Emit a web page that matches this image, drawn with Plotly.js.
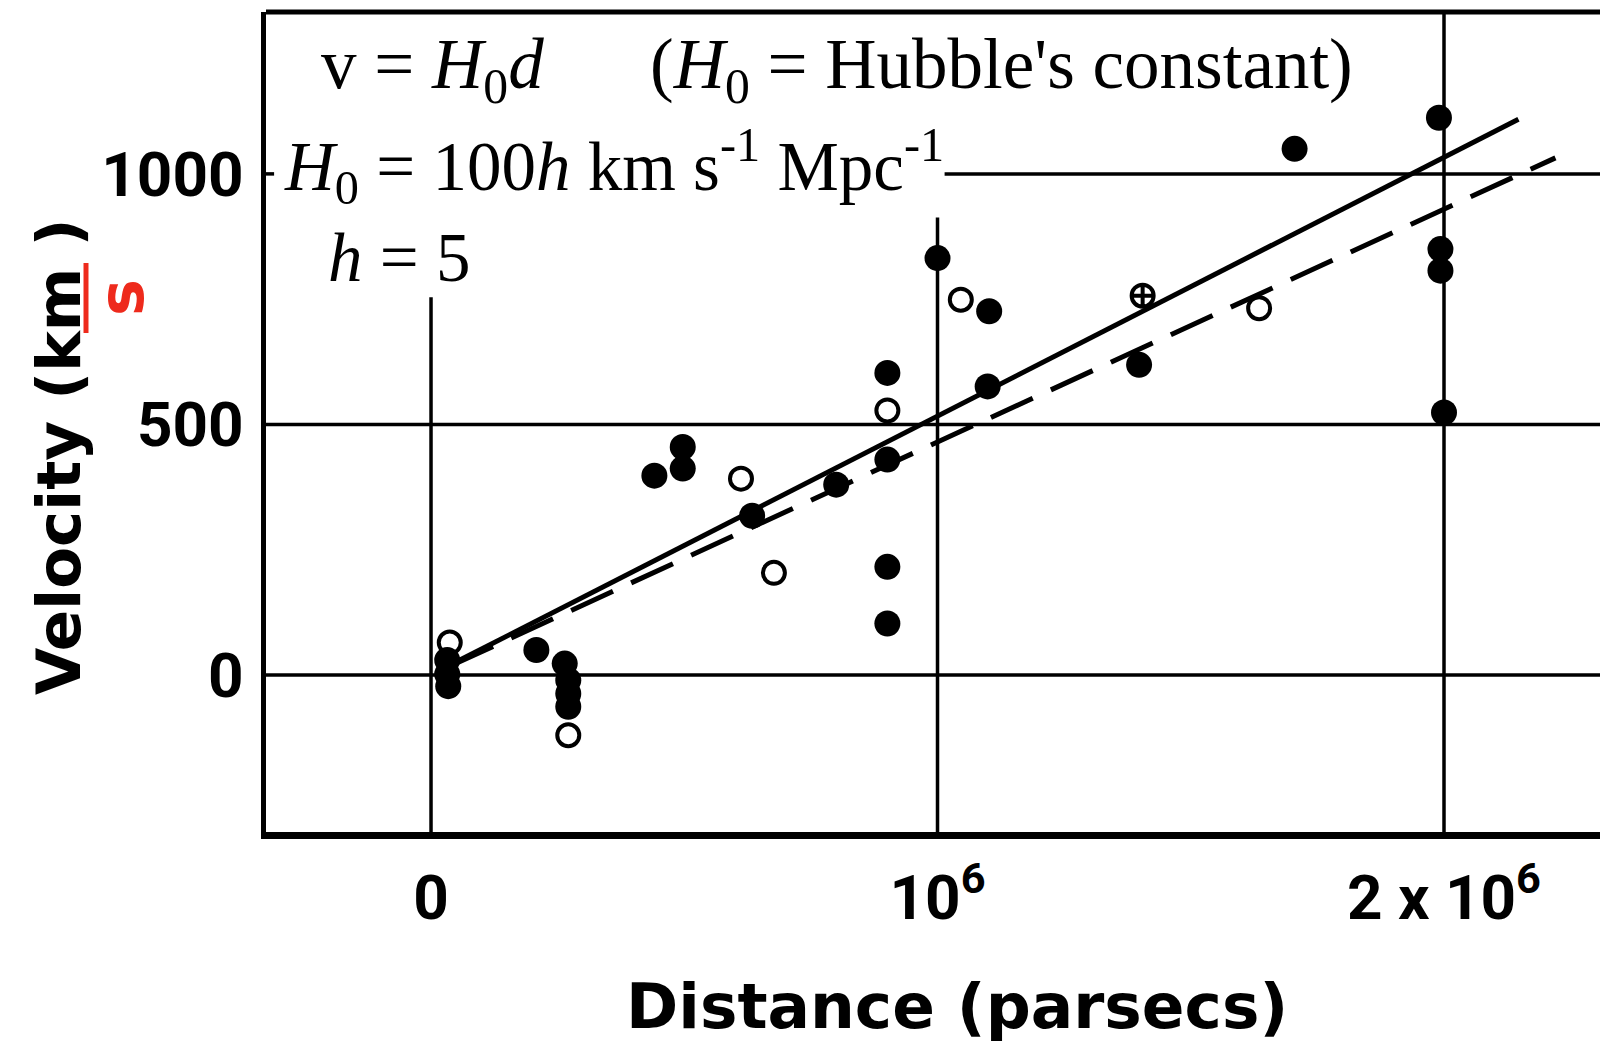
<!DOCTYPE html>
<html>
<head>
<meta charset="utf-8">
<script src="https://cdn.plot.ly/plotly-3.0.1.min.js"></script>
<style>
  html, body { margin: 0; padding: 0; background: #ffffff; }
  #chart { width: 1600px; height: 1044px; }
</style>
</head>
<body>
<div id="chart"></div>
<script>
// ---- data (distance in parsecs, velocity in km/s) ----
const filledDistance = [32000, 32000, 34000, 208000, 264000, 271000, 271000, 271000, 441000, 497000, 497000, 634000, 800000, 901000, 901000, 901000, 901000, 1000000, 1099000, 1102000, 1398000, 1705000, 1990000, 1993000, 1993000, 2000000];
const filledVelocity = [30, 2, -22, 50, 23, -10, -37, -63, 398, 455, 412, 318, 380, 603, 430, 216, 103, 832, 576, 726, 619, 1050, 1112, 850, 807, 524];

const openDistance = [37000, 271000, 612000, 677000, 901000, 1046000, 1635000];
const openVelocity = [65, -120, 392, 204, 528, 749, 732];

const crossDistance = [1405000];
const crossVelocity = [757];

const solidFitDistance = [57000, 2147000];
const solidFitVelocity = [30, 1109];
const dashedFitDistance = [40000, 2220000];
const dashedFitVelocity = [19, 1032];

const xTickValues = [0, 1000000, 2000000];
const xTickLabels = ['0', '10<sup>6</sup>', '2 x 10<sup>6</sup>'];
const yTickValues = [0, 500, 1000];
const yTickLabels = ['0', '500', '1000'];

// ---- layout geometry ----
const W = 1600, H = 1044;
const M = {l: 266, r: 0, t: 12, b: 212};
const PW = W - M.l - M.r, PH = H - M.t - M.b;
const px = x => (x - M.l) / PW;
const py = y => 1 - (y - M.t) / PH;

const xRange = [-325800, 2308000];
const yRange = [-313, 1323];

const sans = 'DejaVu Sans, Arial, sans-serif';
const tickSans = 'Roboto, DejaVu Sans, Arial, sans-serif';
const serif = 'Liberation Serif, Times New Roman, serif';
const red = '#ee2a1c';

const traces = [
  {x: solidFitDistance, y: solidFitVelocity, mode: 'lines', type: 'scatter',
   line: {color: '#000', width: 5}, hoverinfo: 'skip'},
  {x: dashedFitDistance, y: dashedFitVelocity, mode: 'lines', type: 'scatter',
   line: {color: '#000', width: 5, dash: '46px,20px'}, hoverinfo: 'skip'},
  {x: filledDistance, y: filledVelocity, mode: 'markers', type: 'scatter',
   marker: {symbol: 'circle', size: 26, color: '#000'}},
  {x: openDistance, y: openVelocity, mode: 'markers', type: 'scatter',
   marker: {symbol: 'circle-open', size: 22, color: '#000', line: {width: 4, color: '#000'}}},
  {x: crossDistance, y: crossVelocity, mode: 'markers', type: 'scatter',
   marker: {symbol: 'circle-cross-open', size: 22, color: '#000', line: {width: 4, color: '#000'}}}
];

const gl = {color: '#000', width: 3.5};
const shapes = [
  // horizontal grid lines
  {type: 'line', layer: 'below', xref: 'paper', yref: 'y', x0: 0, x1: 1, y0: 0, y1: 0, line: gl},
  {type: 'line', layer: 'below', xref: 'paper', yref: 'y', x0: 0, x1: 1, y0: 500, y1: 500, line: gl},
  {type: 'line', layer: 'below', xref: 'x', yref: 'y', x0: 1014000, x1: xRange[1], y0: 1000, y1: 1000, line: gl},
  {type: 'line', layer: 'below', xref: 'x', yref: 'y', x0: xRange[0], x1: xRange[0] + 16000, y0: 1000, y1: 1000, line: gl},
  // vertical grid lines
  {type: 'line', layer: 'below', xref: 'x', yref: 'y', x0: 0, x1: 0, y0: yRange[0], y1: 754, line: gl},
  {type: 'line', layer: 'below', xref: 'x', yref: 'y', x0: 1000000, x1: 1000000, y0: yRange[0], y1: 913, line: gl},
  {type: 'line', layer: 'below', xref: 'x', yref: 'paper', x0: 2000000, x1: 2000000, y0: 0, y1: 1, line: gl},
  // top frame
  {type: 'line', layer: 'above', xref: 'paper', yref: 'paper', x0: 0, x1: 1, y0: 1, y1: 1, line: {color: '#000', width: 5}},
  // red fraction bar in the y title
  {type: 'line', layer: 'above', xref: 'paper', yref: 'paper', x0: px(86), x1: px(86), y0: py(263), y1: py(333), line: {color: red, width: 5}}
];

const annotations = [
  {text: 'v = <i>H</i><sub>0</sub><i>d</i>', xref: 'paper', yref: 'paper', x: px(319), y: py(70),
   xanchor: 'left', yanchor: 'middle', showarrow: false, font: {family: serif, size: 71, color: '#000'}},
  {text: '(<i>H</i><sub>0</sub> = Hubble\'s constant)', xref: 'paper', yref: 'paper', x: px(648), y: py(70),
   xanchor: 'left', yanchor: 'middle', showarrow: false, font: {family: serif, size: 71, color: '#000'}},
  {text: '<i>H</i><sub>0</sub> = 100<i>h</i> km s<sup>-1</sup> Mpc<sup>-1</sup>', xref: 'paper', yref: 'paper', x: px(282), y: py(166),
   xanchor: 'left', yanchor: 'middle', showarrow: false, font: {family: serif, size: 69, color: '#000'}},
  {text: '<i>h</i> = 5', xref: 'paper', yref: 'paper', x: px(326), y: py(258),
   xanchor: 'left', yanchor: 'middle', showarrow: false, font: {family: serif, size: 69, color: '#000'}},
  // y-axis title
  {text: '<b>Velocity (km )</b>', xref: 'paper', yref: 'paper', x: px(58), y: py(457), textangle: -90,
   xanchor: 'center', yanchor: 'middle', showarrow: false, font: {family: sans, size: 61, color: '#000'}},
  {text: '<b>s</b>', xref: 'paper', yref: 'paper', x: px(121), y: py(298), textangle: -90,
   xanchor: 'center', yanchor: 'middle', showarrow: false, font: {family: sans, size: 62, color: red}},
  // x-axis title
  {text: '<b>Distance (parsecs)</b>', xref: 'paper', yref: 'paper', x: px(957), y: py(1006),
   xanchor: 'center', yanchor: 'middle', showarrow: false, font: {family: sans, size: 63, color: '#000'}}
];

const layout = {
  width: W, height: H,
  margin: M,
  paper_bgcolor: '#fff', plot_bgcolor: '#fff',
  showlegend: false,
  hovermode: false,
  xaxis: {
    range: xRange, showgrid: false, zeroline: false,
    showline: true, linecolor: '#000', linewidth: 7,
    tickmode: 'array', tickvals: xTickValues, ticktext: xTickLabels,
    ticks: '', ticklabelstandoff: 6,
    tickfont: {family: tickSans, size: 62, color: '#000', weight: 'bold'}
  },
  yaxis: {
    range: yRange, showgrid: false, zeroline: false,
    showline: true, linecolor: '#000', linewidth: 5,
    tickmode: 'array', tickvals: yTickValues, ticktext: yTickLabels,
    ticks: '', ticklabelstandoff: 5,
    tickfont: {family: tickSans, size: 62, color: '#000', weight: 'bold'}
  },
  shapes: shapes,
  annotations: annotations
};

Plotly.newPlot('chart', traces, layout, {displayModeBar: false, staticPlot: true});
</script>
</body>
</html>
